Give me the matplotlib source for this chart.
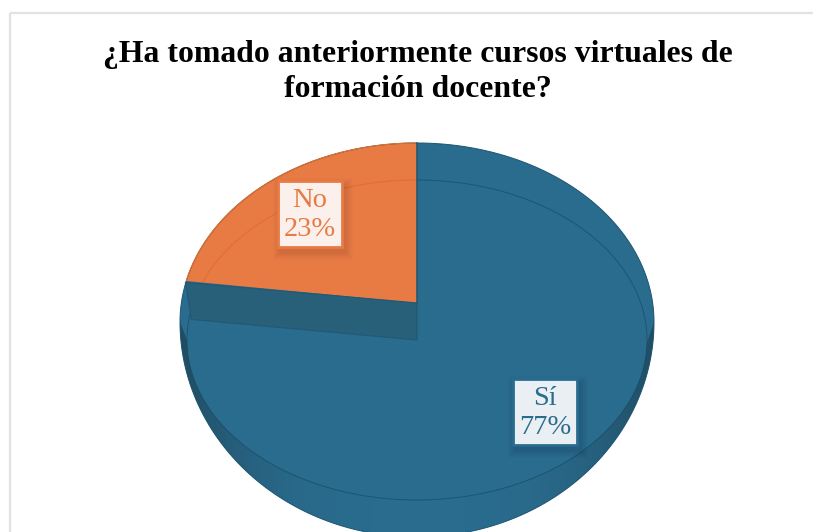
import numpy as np
import matplotlib
matplotlib.use('Agg')
import matplotlib.pyplot as plt
from matplotlib.path import Path
from matplotlib.patches import PathPatch, Ellipse, Polygon, Rectangle

title = '¿Ha tomado anteriormente cursos virtuales de\nformación docente?'
labels = ['Sí', 'No']
values = [77, 23]
colors = ['#2A6C8E', '#E87B44']
dark = ['#1C5572', '#E0702F']
box_fill = ['#E9EFF3', '#FBF0EB']
box_xy = [(513, 379), (278, 181)]

W, H = 813, 532
cx, cy, rx, ry = 417, 322, 237, 179   # top of the pie in pixels
apex_y = 303
depth = 37


def to_px(x, y):
    return cx + rx * x, cy - ry * y


plt.rcParams['font.family'] = ['Liberation Serif', 'DejaVu Serif']
fig = plt.figure(figsize=(W / 100, H / 100), dpi=100)

ax = fig.add_axes([0, 0, 1, 1], zorder=1)
ax.set_xlim(0, W)
ax.set_ylim(H, 0)
ax.axis('off')
ax.patch.set_alpha(0)

# frame of the chart area
ax.add_patch(Rectangle((10, 12.5), W + 20, H + 20, fc='none', ec='#E2E2E2', lw=1.6))
ax.text(418, 72, title, ha='center', va='center', fontsize=22.9, fontweight='bold',
        linespacing=1.24, color='black')

# outline of the whole pie: flat top, deeper bottom
t = np.linspace(0, 2 * np.pi, 361)
sx = cx + rx * np.cos(t)
sy = cy - np.where(np.sin(t) > 0, ry, 215) * np.sin(t)
outline = Path(np.column_stack([sx, sy]), closed=True)
ax.add_patch(PathPatch(outline, fc=colors[0], ec='none', zorder=1))

# rim ellipse, blue part sits under the orange slice
rim_cy, rim_rx, rim_ry = 340, 230, 160
ax.add_patch(Ellipse((cx, rim_cy), 2 * rim_rx, 2 * rim_ry, fc='none', ec=dark[0], lw=0.7, zorder=2))

# pie slices go in their own axes, unit circle stretched to the tilted ellipse
pie_ax = fig.add_axes([(cx - rx * 1.25) / W, 1 - (cy + ry * 1.25) / H,
                       rx * 2.5 / W, ry * 2.5 / H], zorder=2)
centre = (0, (cy - apex_y) / ry)
wedges, _ = pie_ax.pie(values, colors=colors, startangle=90, counterclock=False,
                       center=centre, radius=1.2, normalize=True)
pie_ax.set_aspect('auto')
pie_ax.set_xlim(-1.25, 1.25)
pie_ax.set_ylim(-1.25, 1.25)
pie_ax.patch.set_alpha(0)
wedges[0].set_visible(False)
# pie turns clipping off on its wedges
wedges[1].set_clip_on(True)
wedges[1].set_clip_path(outline, transform=ax.transData)

# everything on top of the slices
ax3 = fig.add_axes([0, 0, 1, 1], zorder=3)
ax3.set_xlim(0, W)
ax3.set_ylim(H, 0)
ax3.axis('off')
ax3.patch.set_alpha(0)

rim_orange = Ellipse((cx, rim_cy), 2 * rim_rx, 2 * rim_ry, fc='none', ec=dark[1], lw=0.8, zorder=3)
ax3.add_patch(rim_orange)
rim_orange.set_clip_path(wedges[1].get_path(), transform=wedges[1].get_transform())

# side band, darker towards both ends
yy, xx = np.mgrid[0:H, 0:W]
shade = np.clip(np.abs(xx - cx) / rx, 0, 1) ** 3.2
img = np.zeros((H, W, 4))
img[..., :3] = matplotlib.colors.to_rgb('#1D3F50')
img[..., 3] = 0.72 * shade
tt = np.linspace(0, np.pi, 181)
band = np.vstack([np.column_stack([cx + rx * np.cos(tt), cy + 215 * np.sin(tt)]),
                  np.column_stack([cx + rim_rx * np.cos(tt), rim_cy + rim_ry * np.sin(tt)])[::-1]])
im = ax3.imshow(img, extent=(0, W, H, 0), aspect='auto', zorder=1, interpolation='bilinear')
im.set_clip_path(Path(band, closed=True), transform=ax3.transData)
ax3.set_xlim(0, W)
ax3.set_ylim(H, 0)

# outer edges
ax3.add_patch(PathPatch(outline, fc='none', ec=dark[0], lw=0.7, zorder=2))
edge_orange = PathPatch(outline, fc='none', ec=dark[1], lw=0.9, zorder=3)
ax3.add_patch(edge_orange)
edge_orange.set_clip_path(wedges[1].get_path(), transform=wedges[1].get_transform())

# inner wall seen below the orange slice, its corner follows the slice angle
a = np.deg2rad(wedges[1].theta2)
edge_x, edge_y = to_px(centre[0] + 0.985 * np.cos(a), centre[1] + 0.985 * np.sin(a))
edge_y += 1.5
wall = [(cx, apex_y), (edge_x, edge_y), (edge_x + 6, edge_y + depth), (cx, apex_y + depth)]
ax3.add_patch(Polygon(wall, closed=True, fc='#285F79', ec='#215A77', lw=0.9, zorder=4))
ax3.plot([cx, cx], [cy - ry, apex_y], color=dark[0], lw=1.1, zorder=5)

# data labels
for i in range(len(labels)):
    x0, y0 = box_xy[i]
    for k in range(1, 9):
        ax3.add_patch(Rectangle((x0 + 3 - k, y0 + 5 - k), 64 + 2 * k, 66 + 2 * k, fc='black',
                                ec='none', alpha=0.012, zorder=6))
    ax3.add_patch(Rectangle((x0, y0), 64, 66, fc=box_fill[i], ec=colors[i], lw=2, zorder=7))
    ax3.text(x0 + 32, y0 + 34, f'{labels[i]}\n{values[i]}%', ha='center', va='center',
             fontsize=20.5, color=colors[i], linespacing=1.26, zorder=8)

fig.savefig('out.png', dpi=100)
